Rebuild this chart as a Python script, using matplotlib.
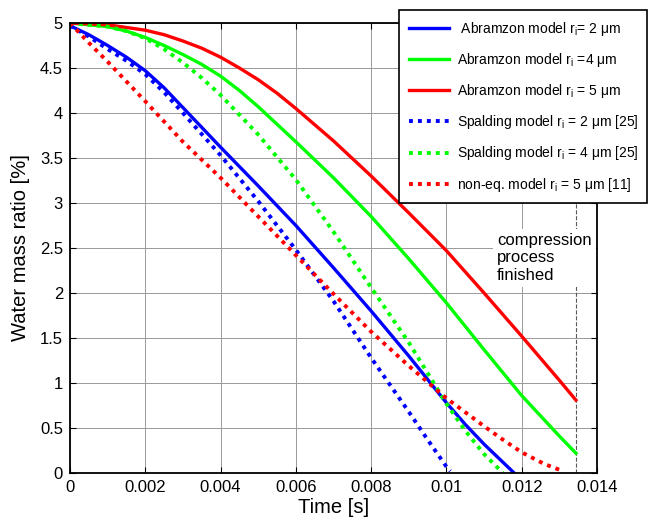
import matplotlib
matplotlib.use('Agg')
import matplotlib.pyplot as plt

plt.rcParams['font.family'] = ['Liberation Sans', 'DejaVu Sans']

# Abramzon model, solid lines
abr2_t = [0, 0.0005, 0.001, 0.0015, 0.002, 0.0025, 0.003, 0.004, 0.005, 0.006, 0.007, 0.008,
          0.009, 0.010, 0.0105, 0.011, 0.0115, 0.0118]
abr2_y = [4.97, 4.87, 4.75, 4.62, 4.47, 4.28, 4.06, 3.62, 3.19, 2.75, 2.28, 1.80,
          1.30, 0.78, 0.54, 0.32, 0.12, 0.0]

abr4_t = [0, 0.001, 0.0015, 0.002, 0.0025, 0.003, 0.0035, 0.004, 0.0045, 0.005, 0.006, 0.007,
          0.008, 0.009, 0.010, 0.011, 0.012, 0.013, 0.01344]
abr4_y = [5.0, 4.96, 4.91, 4.84, 4.75, 4.65, 4.54, 4.41, 4.25, 4.07, 3.68, 3.28,
          2.85, 2.38, 1.89, 1.37, 0.86, 0.41, 0.22]

abr5_t = [0, 0.001, 0.002, 0.0025, 0.003, 0.0035, 0.004, 0.0045, 0.005, 0.0055, 0.006, 0.007,
          0.008, 0.009, 0.010, 0.011, 0.012, 0.013, 0.01344]
abr5_y = [5.0, 4.98, 4.92, 4.87, 4.80, 4.72, 4.62, 4.50, 4.37, 4.22, 4.05, 3.69,
          3.30, 2.89, 2.47, 2.00, 1.52, 1.03, 0.81]

# reference models, dotted lines
spa2_t = [0, 0.0005, 0.001, 0.0015, 0.002, 0.0025, 0.003, 0.004, 0.005, 0.006, 0.007, 0.008,
          0.009, 0.0095, 0.0100, 0.0101]
spa2_y = [4.97, 4.85, 4.71, 4.58, 4.43, 4.23, 4.00, 3.53, 3.02, 2.48, 1.91, 1.28,
          0.68, 0.37, 0.07, 0.02]

spa4_t = [0, 0.001, 0.0015, 0.002, 0.0025, 0.003, 0.0035, 0.004, 0.005, 0.006, 0.007, 0.008,
          0.009, 0.010, 0.0105, 0.011, 0.0115]
spa4_y = [5.0, 4.96, 4.91, 4.83, 4.71, 4.56, 4.39, 4.20, 3.76, 3.26, 2.68, 2.06,
          1.45, 0.77, 0.47, 0.21, 0.0]

neq5_t = [0, 0.0005, 0.001, 0.002, 0.003, 0.004, 0.005, 0.006, 0.007, 0.008, 0.009, 0.010,
          0.011, 0.0115, 0.012, 0.0126, 0.0131]
neq5_y = [5.0, 4.78, 4.57, 4.13, 3.68, 3.28, 2.85, 2.42, 1.99, 1.57, 1.19, 0.83,
          0.52, 0.37, 0.23, 0.10, 0.02]

labels = [' Abramzon model r$_\\mathregular{i}$= 2 μm',
          'Abramzon model r$_\\mathregular{i}$ =4 μm',
          'Abramzon model r$_\\mathregular{i}$ = 5 μm',
          'Spalding model r$_\\mathregular{i}$ = 2 μm [25]',
          'Spalding model r$_\\mathregular{i}$ = 4 μm [25]',
          'non-eq. model r$_\\mathregular{i}$ = 5 μm [11]']

xticks = [0, 0.002, 0.004, 0.006, 0.008, 0.01, 0.012, 0.014]
xticklabels = ['0', '0.002', '0.004', '0.006', '0.008', '0.01', '0.012', '0.014']
yticks = [0, 0.5, 1, 1.5, 2, 2.5, 3, 3.5, 4, 4.5, 5]
yticklabels = ['0', '0.5', '1', '1.5', '2', '2.5', '3', '3.5', '4', '4.5', '5']

blue = '#0000ff'
green = '#00ff00'
red = '#ff0000'
dots = (0, (1, 1.3))

fig = plt.figure(figsize=(6.5, 5.25), dpi=100)
ax = fig.add_axes([70 / 650, 1 - 473 / 525, 527 / 650, 450 / 525])

lines = []
lines += ax.plot(abr2_t, abr2_y, color=blue, lw=2.4, solid_joinstyle='round')
lines += ax.plot(abr4_t, abr4_y, color=green, lw=2.4, solid_joinstyle='round')
lines += ax.plot(abr5_t, abr5_y, color=red, lw=2.4, solid_joinstyle='round')
lines += ax.plot(spa2_t, spa2_y, color=blue, lw=2.8, ls=dots, dash_capstyle='butt')
lines += ax.plot(spa4_t, spa4_y, color=green, lw=2.8, ls=dots, dash_capstyle='butt')
lines += ax.plot(neq5_t, neq5_y, color=red, lw=2.8, ls=dots, dash_capstyle='butt')

# end of compression
ax.axvline(abr5_t[-1], color='0.35', ls='--', lw=0.8, zorder=1)
ax.text(0.01134, 2.39, 'compression\nprocess\nfinished', fontsize=12,
        ha='left', va='center', linespacing=1.2,
        bbox=dict(facecolor='white', edgecolor='none', pad=3))

ax.set_xlim(0, 0.014)
ax.set_ylim(0, 5)
ax.set_xticks(xticks)
ax.set_xticklabels(xticklabels)
ax.set_yticks(yticks)
ax.set_yticklabels(yticklabels)
ax.tick_params(direction='in', length=4, width=0.8, labelsize=12, pad=5,
               top=True, right=True)
ax.grid(True, color='0.6', lw=0.7)
ax.set_axisbelow(True)
for s in ax.spines.values():
    s.set_linewidth(1.3)

ax.set_xlabel('Time [s]', fontsize=14.5, labelpad=2)
ax.set_ylabel('Water mass ratio [%]', fontsize=14.5, labelpad=7)

leg = fig.legend(lines, labels, loc='upper left',
                 bbox_to_anchor=(399 / 650, 1 - 10 / 525, 248 / 650, 0.0),
                 mode='expand', fontsize=10, labelspacing=0.95,
                 handlelength=2.9, handletextpad=0.6, borderpad=0.7,
                 borderaxespad=0, fancybox=False, framealpha=1)
leg.get_frame().set_edgecolor('black')
leg.get_frame().set_linewidth(1.2)

fig.savefig('out.png', dpi=100)
